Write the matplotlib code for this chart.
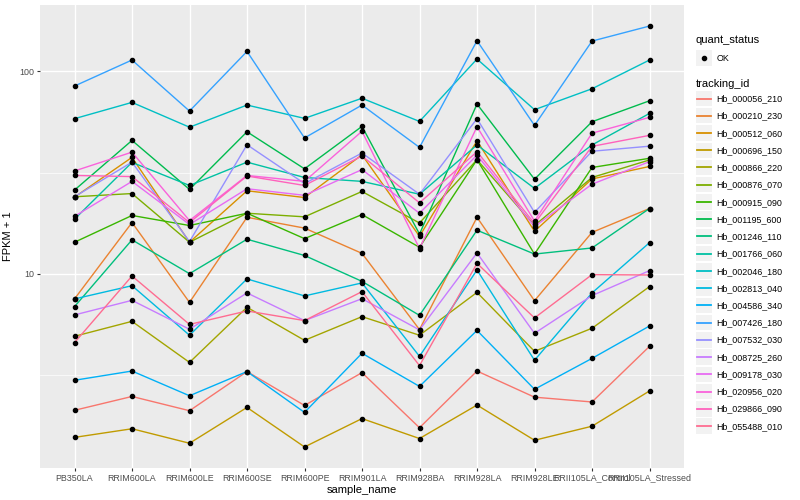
import matplotlib
matplotlib.use("Agg")
import matplotlib.pyplot as plt
from matplotlib.lines import Line2D
from matplotlib.patches import Rectangle
from matplotlib.legend_handler import HandlerBase
from matplotlib.ticker import FixedLocator, NullFormatter
import numpy as np

plt.rcParams["font.family"] = ["Liberation Sans", "DejaVu Sans"]

samples = ["PB350LA", "RRIM600LA", "RRIM600LE", "RRIM600SE", "RRIM600PE",
           "RRIM901LA", "RRIM928BA", "RRIM928LA", "RRIM928LE",
           "RRII105LA_Control", "RRII105LA_Stressed"]

# FPKM + 1 values per tracking_id, in sample order
Hb_000056_210 = [2.11, 2.47, 2.10, 3.28, 2.23, 3.24, 1.73, 3.30, 2.45, 2.32, 4.37]
Hb_000210_230 = [7.50, 17.9, 7.21, 19.0, 16.8, 12.6, 5.29, 19.0, 7.35, 16.0, 21.0]
Hb_000512_060 = [23.9, 37.6, 14.3, 25.7, 23.8, 38.7, 15.3, 45.4, 16.2, 29.4, 33.9]
Hb_000696_150 = [1.55, 1.71, 1.45, 2.18, 1.39, 1.92, 1.53, 2.24, 1.50, 1.76, 2.63]
Hb_000866_220 = [4.90, 5.81, 3.64, 6.82, 4.68, 6.13, 4.96, 8.08, 4.13, 5.37, 8.63]
Hb_000876_070 = [24.0, 24.9, 14.3, 19.9, 19.1, 25.5, 17.8, 36.6, 17.3, 29.9, 36.5]
Hb_000915_090 = [14.3, 19.4, 17.3, 19.9, 14.9, 19.6, 13.5, 36.6, 12.5, 33.5, 37.2]
Hb_001195_600 = [25.9, 45.6, 26.1, 50.3, 33.0, 53.5, 15.7, 69.0, 29.3, 56.4, 71.6]
Hb_001246_110 = [6.87, 14.7, 10.0, 14.8, 12.3, 9.16, 6.22, 16.4, 12.5, 13.4, 21.0]
Hb_001766_060 = [18.6, 35.5, 27.3, 35.6, 29.9, 28.6, 24.7, 43.3, 26.4, 43.3, 62.0]
Hb_002046_180 = [58.4, 70.3, 53.0, 68.2, 58.6, 73.7, 56.6, 115.2, 64.7, 82.1, 113.9]
Hb_002813_040 = [7.50, 8.72, 4.96, 9.42, 7.76, 9.00, 3.90, 10.43, 3.73, 8.03, 14.23]
Hb_004586_340 = [2.97, 3.30, 2.49, 3.28, 2.06, 4.04, 2.77, 5.24, 2.68, 3.81, 5.51]
Hb_007426_180 = [84.7, 113.9, 63.7, 125.6, 46.9, 68.2, 42.1, 141.8, 54.1, 141.3, 167.7]
Hb_007532_030 = [24.0, 35.6, 14.4, 43.4, 27.9, 39.5, 24.7, 58.4, 20.1, 40.3, 42.7]
Hb_008725_260 = [6.25, 7.38, 5.31, 8.03, 5.86, 7.52, 5.27, 12.66, 5.07, 7.79, 10.35]
Hb_009178_030 = [19.2, 28.6, 17.5, 26.3, 24.4, 32.7, 19.9, 38.6, 17.1, 27.7, 35.8]
Hb_020956_020 = [32.2, 39.9, 18.3, 30.6, 28.6, 50.6, 13.3, 53.3, 18.2, 49.5, 59.3]
Hb_029866_090 = [30.6, 30.2, 17.9, 30.4, 27.3, 38.2, 22.4, 40.1, 17.7, 42.6, 48.3]
Hb_055488_010 = [4.56, 9.74, 5.61, 6.54, 5.86, 8.15, 3.51, 11.24, 6.04, 9.89, 9.85]

tracking_ids = ["Hb_000056_210", "Hb_000210_230", "Hb_000512_060", "Hb_000696_150",
                "Hb_000866_220", "Hb_000876_070", "Hb_000915_090", "Hb_001195_600",
                "Hb_001246_110", "Hb_001766_060", "Hb_002046_180", "Hb_002813_040",
                "Hb_004586_340", "Hb_007426_180", "Hb_007532_030", "Hb_008725_260",
                "Hb_009178_030", "Hb_020956_020", "Hb_029866_090", "Hb_055488_010"]
series = [Hb_000056_210, Hb_000210_230, Hb_000512_060, Hb_000696_150,
          Hb_000866_220, Hb_000876_070, Hb_000915_090, Hb_001195_600,
          Hb_001246_110, Hb_001766_060, Hb_002046_180, Hb_002813_040,
          Hb_004586_340, Hb_007426_180, Hb_007532_030, Hb_008725_260,
          Hb_009178_030, Hb_020956_020, Hb_029866_090, Hb_055488_010]
colors = ["#F8766D", "#EA8331", "#D89000", "#C09B00", "#A3A500", "#7CAE00",
          "#39B600", "#00BB4E", "#00BF7D", "#00C1A3", "#00BFC4", "#00BAE0",
          "#00B0F6", "#35A2FF", "#9590FF", "#C77CFF", "#E76BF3", "#FA62DB",
          "#FF62BC", "#FF6C91"]
quant_status = ["OK"]

fig = plt.figure(figsize=(8, 5), dpi=100)
ax = fig.add_axes([40 / 800, 1 - 468 / 500, 644 / 800, 463 / 500])
ax.set_facecolor("#EBEBEB")
for s in ax.spines.values():
    s.set_visible(False)

x = np.arange(len(samples))
for vals, c in zip(series, colors):
    ax.plot(x, vals, color=c, lw=1.0, zorder=3)
for vals in series:
    ax.plot(x, vals, ls="none", marker="o", ms=3.0, color="black", zorder=4)

ax.set_yscale("log")
allv = np.log10(np.concatenate([np.array(v) for v in series]))
lo, hi = allv.min(), allv.max()
pad = 0.05 * (hi - lo)
ax.set_ylim(10 ** (lo - pad), 10 ** (hi + pad))
ax.set_xlim(-0.6, len(samples) - 1 + 0.6)

ax.yaxis.set_major_locator(FixedLocator([10, 100]))
ax.yaxis.set_minor_locator(FixedLocator([10 ** 0.5, 10 ** 1.5]))
ax.yaxis.set_minor_formatter(NullFormatter())
ax.set_yticklabels(["10", "100"])
ax.set_xticks(x)
ax.set_xticklabels(samples)
ax.tick_params(axis="both", which="major", length=2.2, width=0.8, color="#333333",
               labelsize=6.4, labelcolor="#4D4D4D", pad=1.8)
ax.tick_params(axis="y", which="minor", length=0)
ax.grid(True, which="major", color="white", lw=1.0, zorder=0)
ax.grid(True, which="minor", axis="y", color="white", lw=0.5, zorder=0)
ax.set_axisbelow(True)
ax.set_xlabel("sample_name", fontsize=8, labelpad=2)
ax.set_ylabel("FPKM + 1", fontsize=8)
ax.yaxis.set_label_coords((13 - 40) / 644, 0.5)


class KeyHandler(HandlerBase):
    def __init__(self, kind):
        super().__init__()
        self.kind = kind

    def create_artists(self, legend, orig_handle, xdescent, ydescent, width,
                       height, fontsize, trans):
        r = Rectangle((-xdescent, -ydescent), width, height, facecolor="#F2F2F2",
                      edgecolor="none", transform=trans)
        cy = -ydescent + height / 2
        if self.kind == "line":
            a = Line2D([-xdescent + 0.08 * width, -xdescent + 0.92 * width], [cy, cy],
                       color=orig_handle.get_color(), lw=1.3, transform=trans)
        else:
            a = Line2D([-xdescent + width / 2], [cy], marker="o", ms=3,
                       color="black", ls="none", transform=trans)
        return [r, a]


common = dict(loc="upper left", frameon=False, alignment="left", fontsize=6.4,
              title_fontsize=8, borderpad=0, borderaxespad=0, handlelength=1.8,
              handleheight=2.3, handletextpad=0.5)
h1 = [Line2D([], [], color="black") for _ in quant_status]
leg1 = fig.legend(h1, quant_status, bbox_to_anchor=(696 / 800, 1 - 35 / 500),
                  title="quant_status", handler_map={Line2D: KeyHandler("point")},
                  labelspacing=0.6, **common)
h2 = [Line2D([], [], color=c) for c in colors]
leg2 = fig.legend(h2, tracking_ids, bbox_to_anchor=(696 / 800, 1 - 79 / 500),
                  title="tracking_id", handler_map={Line2D: KeyHandler("line")},
                  labelspacing=0.2, **common)

fig.savefig("out.png", dpi=100)
